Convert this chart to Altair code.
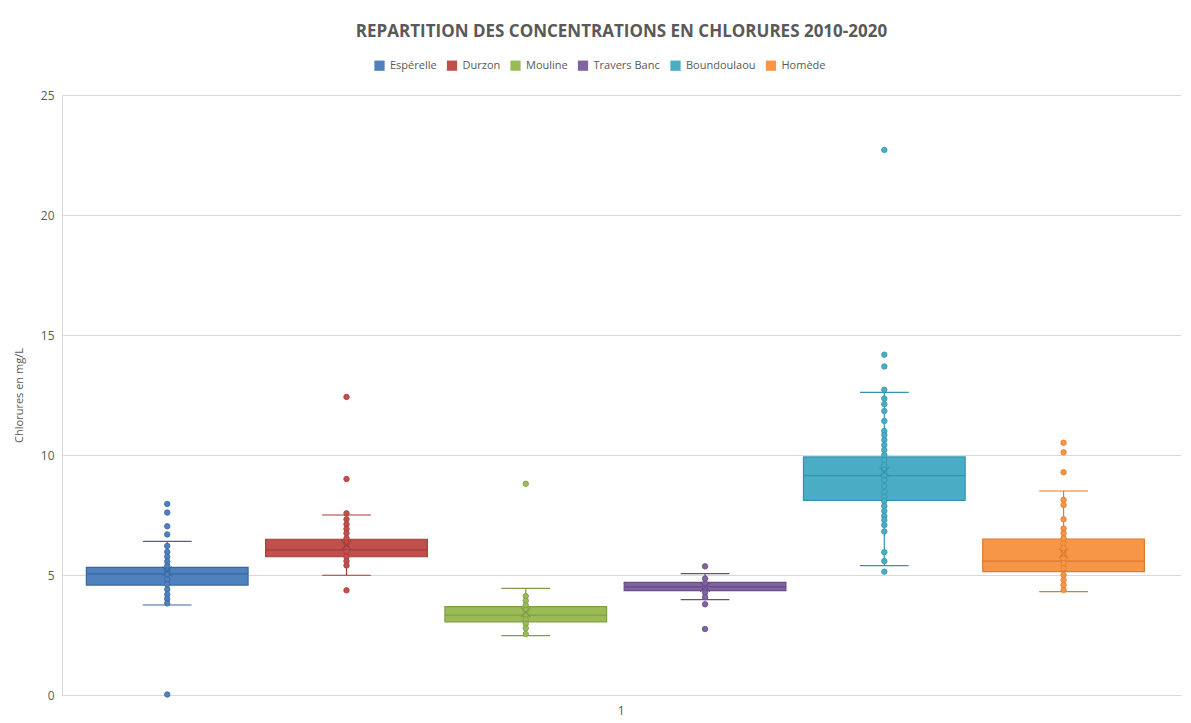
import altair as alt
import pandas as pd

series = ["Espérelle", "Durzon", "Mouline", "Travers Banc", "Boundoulaou", "Homède"]
colors = ["#4F81BD", "#C0504D", "#9BBB59", "#8064A2", "#4BACC6", "#F79646"]
dark_colors = ["#3A679F", "#A33D3A", "#7F9D43", "#674E88", "#3594AD", "#DB7B2E"]

q1 = [4.58, 5.76, 3.05, 4.35, 8.11, 5.14]
median = [5.05, 6.05, 3.33, 4.51, 9.14, 5.58]
q3 = [5.32, 6.49, 3.68, 4.69, 9.92, 6.50]
whisker_low = [3.75, 4.99, 2.47, 3.97, 5.39, 4.31]
whisker_high = [6.40, 7.50, 4.44, 5.06, 12.61, 8.50]
mean = [5.15, 6.25, 3.44, 4.50, 9.31, 5.90]

esperelle_points = [6.21, 5.96, 5.76, 5.56, 5.38, 5.18, 5.05, 4.82, 4.61, 4.40, 4.19, 4.00, 3.82]
durzon_points = [7.57, 7.32, 7.11, 6.92, 6.74, 6.53, 6.32, 6.10, 5.97, 5.76, 5.58, 5.40]
mouline_points = [4.12, 3.93, 3.74, 3.54, 3.33, 3.15, 2.97, 2.78, 2.54]
travers_points = [4.85, 4.65, 4.46, 4.26, 4.07]
boundoulaou_points = [12.72, 12.35, 12.12, 11.83, 11.42, 11.00, 10.83, 10.63, 10.42, 10.21,
                      10.00, 9.79, 9.58, 9.38, 9.14, 8.96, 8.71, 8.47, 8.26, 8.08, 7.88,
                      7.67, 7.46, 7.29, 7.08, 6.81, 5.95, 5.58]
homede_points = [8.13, 7.92, 7.32, 6.94, 6.74, 6.53, 6.32, 6.11, 5.90, 5.69, 5.49, 5.28,
                 5.00, 4.79, 4.58, 4.38]

esperelle_outliers = [7.96, 7.60, 7.03, 6.69, 0.02]
durzon_outliers = [12.42, 9.00, 4.36]
mouline_outliers = [8.80]
travers_outliers = [5.36, 3.78, 2.75]
boundoulaou_outliers = [22.71, 14.18, 13.69, 5.14]
homede_outliers = [10.51, 10.11, 9.28]

all_points = [esperelle_points, durzon_points, mouline_points, travers_points,
              boundoulaou_points, homede_points]
all_outliers = [esperelle_outliers, durzon_outliers, mouline_outliers, travers_outliers,
                boundoulaou_outliers, homede_outliers]

BOX_HALF = 0.451
CAP_HALF = 0.136

summary = pd.DataFrame({
    "serie": series,
    "pos": list(range(len(series))),
    "q1": q1, "median": median, "q3": q3,
    "lo": whisker_low, "hi": whisker_high, "mean": mean,
})
summary["serie_s"] = summary["serie"]
summary["bx0"] = summary["pos"] - BOX_HALF
summary["bx1"] = summary["pos"] + BOX_HALF
summary["cx0"] = summary["pos"] - CAP_HALF
summary["cx1"] = summary["pos"] + CAP_HALF

rows = []
for i, name in enumerate(series):
    for v in all_points[i] + all_outliers[i]:
        rows.append({"serie": name, "serie_s": name, "pos": i, "value": v})
points = pd.DataFrame(rows)

xscale = alt.Scale(domain=[-0.587, 5.655], nice=False, zero=False)
yscale = alt.Scale(domain=[0, 25], nice=False)
color_scale = alt.Scale(domain=series, range=colors)
# reversed order so this scale's domain differs from the fill scale (keeps legends separate)
stroke_scale = alt.Scale(domain=series[::-1], range=dark_colors[::-1])

x_axis = alt.Axis(values=[2.53], labelExpr="'1'", ticks=False, grid=False, title=None,
                  domain=True, domainColor="#D9D9D9", labelColor="#595959",
                  labelFontSize=12, labelPadding=10, labelFont="Open Sans")
y_axis = alt.Axis(values=[0, 5, 10, 15, 20, 25], title="Chlorures en mg/L",
                  titleFontWeight="normal", titleFontSize=11, titleColor="#595959",
                  titleFont="Open Sans", titlePadding=16,
                  labelColor="#595959", labelFontSize=12, labelFont="Open Sans",
                  labelPadding=8, ticks=False, domain=True, domainColor="#D9D9D9",
                  gridColor="#D9D9D9")

legend = alt.Legend(title=None, orient="none", direction="horizontal",
                    legendX=312, legendY=-35, symbolType="square",
                    symbolSize=105, symbolStrokeWidth=0,
                    labelFont="Open Sans", labelFontSize=11,
                    labelColor="#595959", columnPadding=9.5, labelOffset=5)

stroke_enc = alt.Stroke("serie_s:N", scale=stroke_scale, legend=None)

base = alt.Chart(summary)

whisker = base.mark_rule(strokeWidth=1.2).encode(
    x=alt.X("pos:Q", scale=xscale, axis=x_axis),
    y=alt.Y("lo:Q", scale=yscale, axis=y_axis),
    y2="hi:Q",
    stroke=stroke_enc,
)
cap_lo = base.mark_rule(strokeWidth=1.2).encode(
    x="cx0:Q", x2="cx1:Q", y="lo:Q", stroke=stroke_enc,
)
cap_hi = base.mark_rule(strokeWidth=1.2).encode(
    x="cx0:Q", x2="cx1:Q", y="hi:Q", stroke=stroke_enc,
)
box = base.mark_rect(strokeWidth=1.2).encode(
    x="bx0:Q", x2="bx1:Q", y="q1:Q", y2="q3:Q",
    fill=alt.Fill("serie:N", scale=color_scale, sort=series, legend=legend),
    stroke=stroke_enc,
)
med = base.mark_rule(strokeWidth=1.3).encode(
    x="bx0:Q", x2="bx1:Q", y="median:Q", stroke=stroke_enc,
)
pts = alt.Chart(points).mark_circle(size=30, opacity=1, strokeWidth=0.8).encode(
    x="pos:Q", y="value:Q",
    fill=alt.Fill("serie:N", scale=color_scale, sort=series, legend=legend),
    stroke=stroke_enc,
)
mean_mark = base.mark_point(shape="M-1,-1L1,1M1,-1L-1,1", size=90, filled=False,
                            strokeWidth=1.2, opacity=1).encode(
    x="pos:Q", y="mean:Q", stroke=stroke_enc,
)

chart = alt.layer(whisker, cap_lo, cap_hi, box, med, pts, mean_mark).properties(
    width=1119, height=600,
    padding={"left": 5, "top": 15, "right": 2, "bottom": 2},
    title=alt.TitleParams("REPARTITION DES CONCENTRATIONS EN CHLORURES 2010-2020",
                          font="Open Sans", fontSize=17, fontWeight="bold",
                          color="#595959", anchor="middle", offset=19),
).configure(background="white").configure_view(stroke=None)

chart.save("out.html", embed_options={"renderer": "svg", "actions": False})
